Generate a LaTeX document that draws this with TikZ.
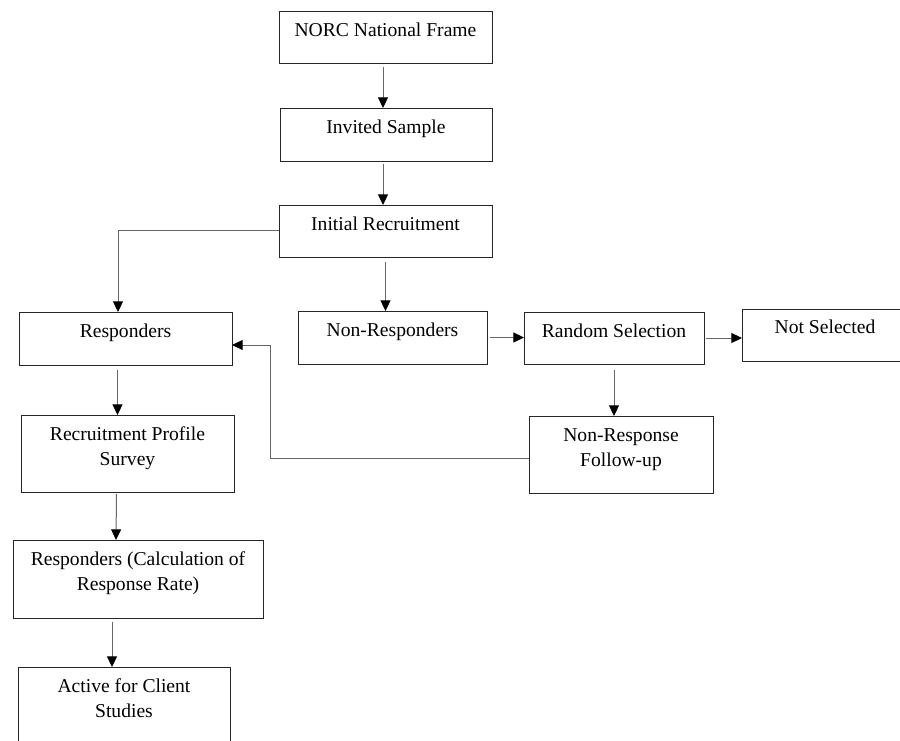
\documentclass[tikz,border=0pt]{standalone}
\usepackage{fontspec}
\setmainfont{Liberation Serif}
\usetikzlibrary{arrows.meta,calc}
\begin{document}
\begin{tikzpicture}[x=0.75pt,y=-0.75pt,
  box/.style={draw=black!85, line width=0.75pt, inner sep=0pt, outer sep=0pt,
    anchor=north west, align=center, text height=18.75pt,
    font=\fontsize{14.7}{18.75}\selectfont},
  twoline/.style={text height=37.5pt},
  arr/.style={draw=black!60, line width=0.75pt, -{Triangle[length=8pt,width=7.5pt,fill=black,color=black]}}]
\useasboundingbox (0,0) rectangle (900,740);
\node[box, minimum width=159.75pt, text depth=20.25pt] (norc) at (279,11) {NORC National Frame};
\node[box, minimum width=159pt, text depth=21pt] (inv) at (280,108) {Invited Sample};
\node[box, minimum width=159.75pt, text depth=20.25pt] (init) at (279,205) {Initial Recruitment};
\node[box, minimum width=159.75pt, text depth=21pt] (resp) at (19,312) {Responders};
\node[box, minimum width=141.75pt, text depth=21pt] (nonresp) at (298,311) {Non-Responders};
\node[box, minimum width=135pt, text depth=20.25pt] (random) at (524,312) {Random Selection};
\node[box, minimum width=124.5pt, text depth=21pt, text height=18pt] (notsel) at (742,309) {Not Selected};
\node[box, twoline, minimum width=138pt, text depth=20.25pt] (nrfu) at (529,416) {Non-Response\\Follow-up};
\node[box, twoline, minimum width=159.75pt, text depth=20.25pt] (rps) at (21,415) {Recruitment Profile\\Survey};
\node[box, twoline, minimum width=187.5pt, text depth=21pt] (calc) at (13,540) {Responders (Calculation of\\Response Rate)};
\node[box, twoline, minimum width=159pt, text depth=21pt] (active) at (18,667) {Active for Client\\Studies};

\draw[arr] ($(norc.south)+(-2.5,4)$) -- ($(inv.north)+(-3,0)$);
\draw[arr] ($(inv.south)+(-3,3)$) -- ($(init.north)+(-2.5,0)$);
\draw[arr] ($(init.west)+(0,-1)$) -| ($(resp.north)+(-7.5,0)$);
\draw[arr] ($(init.south)+(0,5)$) -- (init.south |- nonresp.north);
\draw[arr] ($(nonresp.east)+(3,0)$) -- (nonresp.east -| random.west);
\draw[arr] ($(random.east)+(2,0)$) -- (random.east -| notsel.west);
\draw[arr] ($(random.south)+(0,6)$) -- (random.south |- nrfu.north);
\draw[arr] ($(resp.south)+(-8,5)$) -- ($(rps.north)+(-10,0)$);
\draw[arr] ($(rps.south)+(-11,2)$) -- ($(calc.north)+(-22,0)$);
\draw[arr] ($(calc.south)+(-26,4)$) -- ($(active.north)+(-12,0)$);
\draw[arr] ($(nrfu.west)+(0,3.5)$) -| ($(resp.east)+(38,6.5)$) -- ($(resp.east)+(0,6.5)$);
\end{tikzpicture}
\end{document}
